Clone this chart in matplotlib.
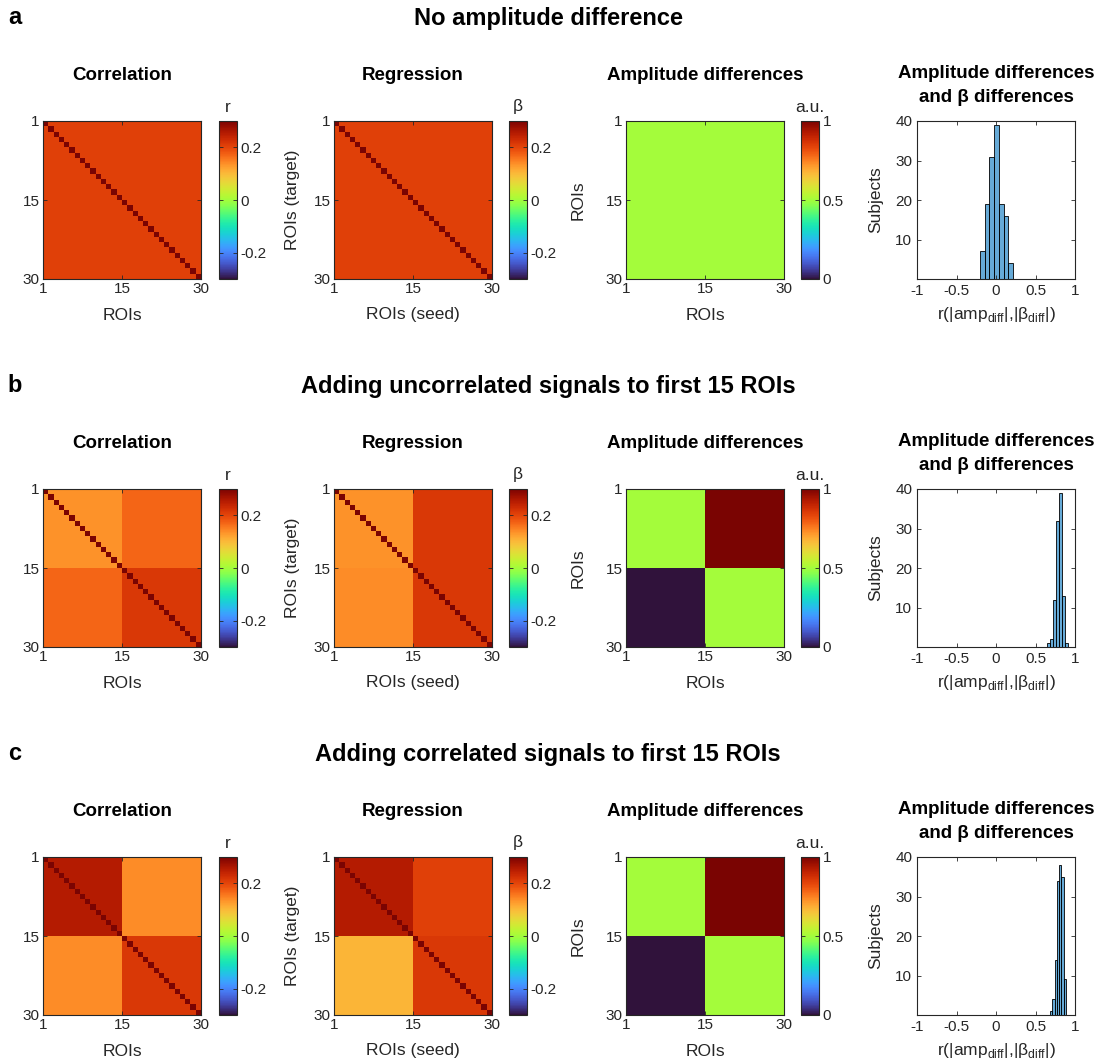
import numpy as np
import matplotlib
matplotlib.use("Agg")
import matplotlib.pyplot as plt

plt.rcParams['font.family'] = ['Liberation Sans', 'DejaVu Sans']
plt.rcParams['mathtext.fontset'] = 'custom'
plt.rcParams['mathtext.rm'] = 'Liberation Sans'

# ---------------- data ----------------
row_letters = ['a', 'b', 'c']
row_titles = ['No amplitude difference',
              'Adding uncorrelated signals to first 15 ROIs',
              'Adding correlated signals to first 15 ROIs']
n_rois = 30
block_size = 15
roi_tick_labels = [1, 15, 30]

# 2x2 block values (rows: target/ROI group 1-15, 16-30; cols: seed group)
corr_a = [[0.205, 0.205], [0.205, 0.205]]
corr_b = [[0.135, 0.17], [0.17, 0.215]]
corr_c = [[0.255, 0.14], [0.14, 0.215]]
reg_a = [[0.205, 0.205], [0.205, 0.205]]
reg_b = [[0.135, 0.215], [0.14, 0.215]]
reg_c = [[0.255, 0.205], [0.105, 0.215]]
amp_a = [[0.5, 0.5], [0.5, 0.5]]
amp_b = [[0.5, 1.0], [0.0, 0.5]]
amp_c = [[0.5, 1.0], [0.0, 0.5]]
diag_value = 1.0   # diagonal of correlation / regression matrices

corr_clim = [-0.3, 0.3]
corr_ticks = [-0.2, 0, 0.2]
amp_clim = [0, 1]
amp_ticks = [0, 0.5, 1]

# histograms of r(|amp_diff|, |beta_diff|)
hist_a_start, hist_a_width = -0.204, 0.06
hist_a_counts = [7, 19, 31, 39, 19, 16, 4]
hist_b_start, hist_b_width = 0.65, 0.037
hist_b_counts = [1, 2, 12, 32, 39, 13, 1]
hist_c_start, hist_c_width = 0.683, 0.029
hist_c_counts = [1, 4, 14, 34, 38, 35, 9]
hist_xticks = [-1, -0.5, 0, 0.5, 1]
hist_xticklabels = ['-1', '-0.5', '0', '0.5', '1']
hist_yticks = [10, 20, 30, 40]

# ---------------- layout ----------------
W, H = 1105, 1063
fig = plt.figure(figsize=(W / 100, H / 100), dpi=100)
fig.patch.set_facecolor('white')

row_tops = [121, 489, 857]
sz = 158
heat_x = [43, 334, 626]
cbar_x = [219, 509, 801]
cbar_w = 18
hist_x = 917

TXT = '#262626'
tick_fs = 11
label_fs = 12.5
title_fs = 13.5


def rect(x0, y0, w, h):
    return [x0 / W, 1 - (y0 + h) / H, w / W, h / H]


def build(blocks, with_diag):
    m = np.kron(np.array(blocks, dtype=float), np.ones((block_size, block_size)))
    if with_diag:
        np.fill_diagonal(m, diag_value)
    return m


def style_box(ax):
    for s in ax.spines.values():
        s.set_color(TXT)
        s.set_linewidth(0.8)
    ax.tick_params(direction='in', length=3, width=0.6, color=TXT,
                   labelcolor=TXT, labelsize=tick_fs, top=True, right=True)


def heat(ax, blocks, clim, with_diag, title, xlabel, ylabel, ylab_off):
    m = build(blocks, with_diag)
    ax.imshow(m, cmap='turbo', vmin=clim[0], vmax=clim[1], interpolation='nearest',
              extent=[0.5, n_rois + 0.5, n_rois + 0.5, 0.5], aspect='auto')
    pos = [0.5, block_size + 0.5, n_rois + 0.5]
    ax.set_xticks(pos)
    ax.set_xticklabels([str(v) for v in roi_tick_labels])
    ax.set_yticks(pos)
    ax.set_yticklabels([str(v) for v in roi_tick_labels])
    ax.set_xlim(0.5, n_rois + 0.5)
    ax.set_ylim(n_rois + 0.5, 0.5)
    style_box(ax)
    ax.tick_params(pad=2.5)
    ax.text(0.5, 1 + 46 / sz, title, transform=ax.transAxes, ha='center', va='center',
            fontsize=title_fs, fontweight='bold', color='black')
    ax.text(0.5, -36 / sz, xlabel, transform=ax.transAxes, ha='center', va='center',
            fontsize=label_fs, color=TXT)
    if ylabel:
        ax.text(-ylab_off / sz, 0.5, ylabel, transform=ax.transAxes, ha='center',
                va='center', rotation=90, fontsize=label_fs, color=TXT)


def cbar(cax, mappable_ax, ticks, label):
    im = mappable_ax.images[0]
    cb = fig.colorbar(im, cax=cax, ticks=ticks)
    cb.outline.set_edgecolor(TXT)
    cb.outline.set_linewidth(0.8)
    cax.tick_params(direction='in', length=3, width=0.6, color=TXT, labelcolor=TXT,
                    labelsize=tick_fs, left=True, right=True, pad=2.5)
    cb.set_ticklabels([('%g' % t) for t in ticks])
    cax.text(0.5, 1 + 14 / sz, label, transform=cax.transAxes, ha='center', va='center',
             fontsize=label_fs, color=TXT)


corr_list = [corr_a, corr_b, corr_c]
reg_list = [reg_a, reg_b, reg_c]
amp_list = [amp_a, amp_b, amp_c]
hist_list = [(hist_a_start, hist_a_width, hist_a_counts),
             (hist_b_start, hist_b_width, hist_b_counts),
             (hist_c_start, hist_c_width, hist_c_counts)]

for r in range(3):
    top = row_tops[r]
    fig.text(15 / W, 1 - (top - 103) / H, row_letters[r], ha='center', va='center',
             fontsize=17, fontweight='bold')
    fig.text(548 / W, 1 - (top - 103) / H, row_titles[r], ha='center', va='center',
             fontsize=17, fontweight='bold')

    ax1 = fig.add_axes(rect(heat_x[0], top, sz, sz))
    heat(ax1, corr_list[r], corr_clim, True, 'Correlation', 'ROIs', None, 0)
    cbar(fig.add_axes(rect(cbar_x[0], top, cbar_w, sz)), ax1, corr_ticks, 'r')

    ax2 = fig.add_axes(rect(heat_x[1], top, sz, sz))
    heat(ax2, reg_list[r], corr_clim, True, 'Regression', 'ROIs (seed)', 'ROIs (target)', 41.5)
    cbar(fig.add_axes(rect(cbar_x[1], top, cbar_w, sz)), ax2, corr_ticks, 'β')

    ax3 = fig.add_axes(rect(heat_x[2], top, sz, sz))
    heat(ax3, amp_list[r], amp_clim, False, 'Amplitude differences', 'ROIs', 'ROIs', 47.5)
    cbar(fig.add_axes(rect(cbar_x[2], top, cbar_w, sz)), ax3, amp_ticks, 'a.u.')

    ax4 = fig.add_axes(rect(hist_x, top, sz, sz))
    start, width, counts = hist_list[r]
    edges = start + width * np.arange(len(counts) + 1)
    ax4.bar(edges[:-1], counts, width=np.diff(edges), align='edge',
            facecolor=(0.0, 0.447, 0.741, 0.6), edgecolor='black', linewidth=0.6)
    ax4.set_xlim(-1, 1)
    ax4.set_ylim(0, 40)
    ax4.set_xticks(hist_xticks)
    ax4.set_xticklabels(hist_xticklabels)
    ax4.set_yticks(hist_yticks)
    style_box(ax4)
    ax4.text(0.5, 1 + 35.5 / sz,
             'Amplitude differences\nand β differences', transform=ax4.transAxes,
             ha='center', va='center', fontsize=title_fs, fontweight='bold',
             linespacing=1.5)
    ax4.text(0.5, -36 / sz, r'r(|amp$_\mathregular{diff}$|,|β$_\mathregular{diff}$|)',
             transform=ax4.transAxes, ha='center', va='center', fontsize=label_fs, color=TXT)
    ax4.text(-41.5 / sz, 0.5, 'Subjects', transform=ax4.transAxes, ha='center',
             va='center', rotation=90, fontsize=label_fs, color=TXT)

fig.savefig('out.png', dpi=100, facecolor='white')
